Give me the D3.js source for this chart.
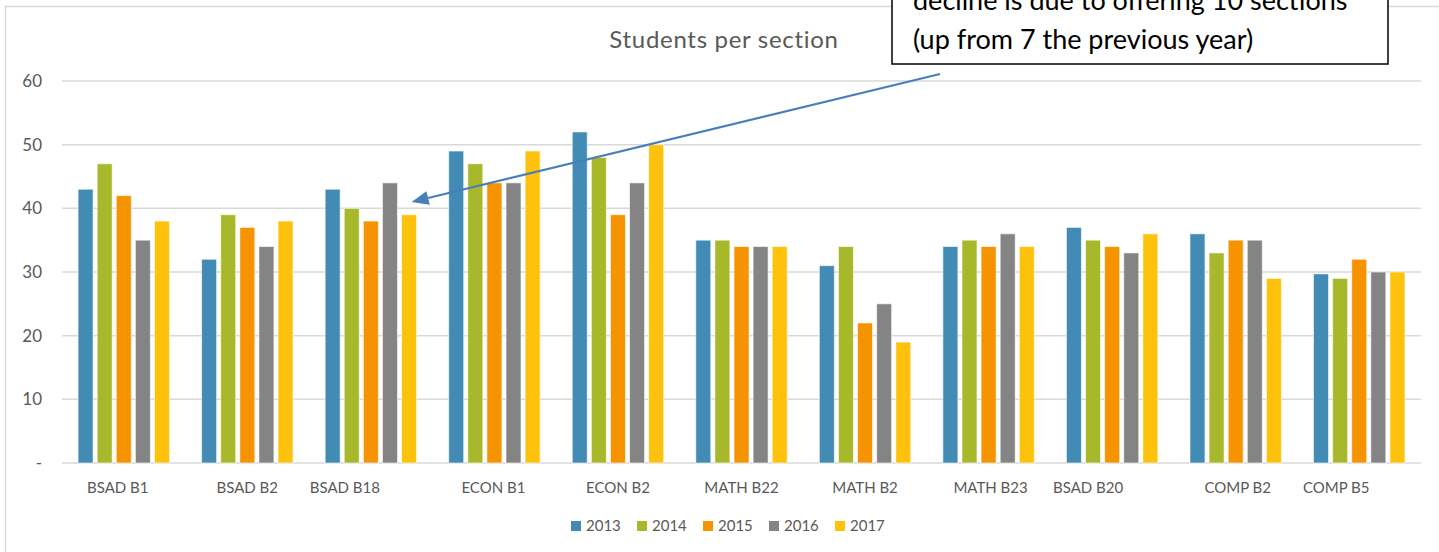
<!DOCTYPE html>
<html>
<head>
<meta charset="utf-8">
<script src="https://cdn.jsdelivr.net/npm/d3@7/dist/d3.min.js"></script>
<style>
  body { margin: 0; background: #fff; }
  text { font-family: Lato, "Open Sans", sans-serif; }
</style>
</head>
<body>
<script>
var sections = ["BSAD B1", "BSAD B2", "BSAD B18", "ECON B1", "ECON B2", "MATH B22",
                "MATH B2", "MATH B23", "BSAD B20", "COMP B2", "COMP B5"];
var years = ["2013", "2014", "2015", "2016", "2017"];
var v2013 = [43, 32, 43, 49, 52, 35, 31, 34, 37, 36, 29.7];
var v2014 = [47, 39, 40, 47, 48, 35, 34, 35, 35, 33, 29];
var v2015 = [42, 37, 38, 44, 39, 34, 22, 34, 34, 35, 32];
var v2016 = [35, 34, 44, 44, 44, 34, 25, 36, 33, 35, 30];
var v2017 = [38, 38, 39, 49, 50, 34, 19, 34, 36, 29, 30];
var yTicks = [0, 10, 20, 30, 40, 50, 60];
var noteLines = ["decline is due to offering 10 sections", "(up from 7 the previous year)"];

var colors = ["#428bb5", "#a8b82b", "#f59300", "#848484", "#fec20c"];
// some category names sit off-centre in the original, nudge them (px)
var labelShift = [-6, 0, -26, -1, 0, 0, 0, 2, -24, 2, -23];

var series = [v2013, v2014, v2015, v2016, v2017];
var rows = sections.map(function (s, i) {
    return { section: s, vals: years.map(function (y, j) { return { year: y, value: series[j][i] }; }) };
});

var W = 1439, H = 552;
var svg = d3.select('body').append('svg')
    .attr('width', W)
    .attr('height', H);

// outer chart frame (only top + left show in the crop)
svg.append('path')
    .attr('d', 'M5.5,' + H + ' V6.5 H' + W)
    .attr('fill', 'none').attr('stroke', '#d9d9d9').attr('stroke-width', 1.5);

var x0 = d3.scaleBand().domain(sections).range([62, 1421]).paddingInner(0.26).paddingOuter(0.13);
var x1 = d3.scaleBand().domain(years).range([0, x0.bandwidth()]).paddingInner(0.215);
var y = d3.scaleLinear().domain([0, 60]).range([463, 81]);
var color = d3.scaleOrdinal().domain(years).range(colors);

// gridlines
svg.append('g').selectAll('line')
    .data(yTicks)
    .enter().append('line')
    .attr('x1', 62).attr('x2', 1421)
    .attr('y1', function (d) { return y(d); })
    .attr('y2', function (d) { return y(d); })
    .attr('stroke', '#d9d9d9').attr('stroke-width', 1.5);

// y labels
svg.append('g').selectAll('text')
    .data(yTicks)
    .enter().append('text')
    .attr('x', 42)
    .attr('y', function (d) { return y(d); })
    .attr('dy', '0.35em')
    .attr('text-anchor', 'end')
    .attr('fill', '#595959')
    .attr('font-size', 17)
    .text(function (d) { return d === 0 ? '-' : d; });

// bars
var groups = svg.append('g').selectAll('g')
    .data(rows)
    .enter().append('g')
    .attr('transform', function (d) { return 'translate(' + x0(d.section) + ',0)'; });

groups.selectAll('rect')
    .data(function (d) { return d.vals; })
    .enter().append('rect')
    .attr('x', function (d) { return x1(d.year); })
    .attr('y', function (d) { return y(d.value); })
    .attr('width', x1.bandwidth())
    .attr('height', function (d) { return y(0) - y(d.value); })
    .attr('fill', function (d) { return color(d.year); })
    .attr('stroke', '#fff').attr('stroke-opacity', 0.6).attr('stroke-width', 1);

// category labels
svg.append('g').selectAll('text')
    .data(sections)
    .enter().append('text')
    .attr('x', function (d, i) { return x0(d) + x0.bandwidth() / 2 + labelShift[i]; })
    .attr('y', 493)
    .attr('text-anchor', 'middle')
    .attr('fill', '#595959')
    .attr('font-size', 15)
    .text(function (d) { return d; });

// title
svg.append('text')
    .attr('x', 724).attr('y', 48)
    .attr('text-anchor', 'middle')
    .attr('fill', '#595959')
    .attr('font-size', 24)
    .attr('letter-spacing', 0.7)
    .text('Students per section');

// legend
var legend = svg.append('g').selectAll('g')
    .data(years)
    .enter().append('g')
    .attr('transform', function (d, i) { return 'translate(' + (571 + i * 66) + ',521)'; });
legend.append('rect')
    .attr('width', 10).attr('height', 10)
    .attr('fill', function (d) { return color(d); });
legend.append('text')
    .attr('x', 15).attr('y', 5).attr('dy', '0.35em')
    .attr('fill', '#595959')
    .attr('font-size', 15)
    .text(function (d) { return d; });

// annotation arrow, pointing at the BSAD B18 group
var tipX = x0('BSAD B18') + x0.bandwidth() - 5, tipY = y(41);
var fromX = 940, fromY = 74;
var ang = Math.atan2(tipY - fromY, tipX - fromX);
var headLen = 17, headW = 7;
var baseX = tipX - headLen * Math.cos(ang), baseY = tipY - headLen * Math.sin(ang);
svg.append('line')
    .attr('x1', fromX).attr('y1', fromY)
    .attr('x2', baseX).attr('y2', baseY)
    .attr('stroke', '#4a7ebb').attr('stroke-width', 2);
svg.append('path')
    .attr('d', d3.line()([
        [tipX, tipY],
        [baseX + headW * Math.sin(ang), baseY - headW * Math.cos(ang)],
        [baseX - headW * Math.sin(ang), baseY + headW * Math.cos(ang)]
    ]) + 'Z')
    .attr('fill', '#4a7ebb');

// annotation box (its top is cut off in the original)
svg.append('rect')
    .attr('x', 892).attr('y', -40)
    .attr('width', 496).attr('height', 104)
    .attr('fill', '#fff').attr('stroke', '#000').attr('stroke-width', 1.5);
svg.append('g').selectAll('text')
    .data(noteLines)
    .enter().append('text')
    .attr('x', 913)
    .attr('y', function (d, i) { return 10 + i * 39; })
    .attr('fill', '#000')
    .attr('font-size', 27)
    .text(function (d) { return d; });
</script>
</body>
</html>
